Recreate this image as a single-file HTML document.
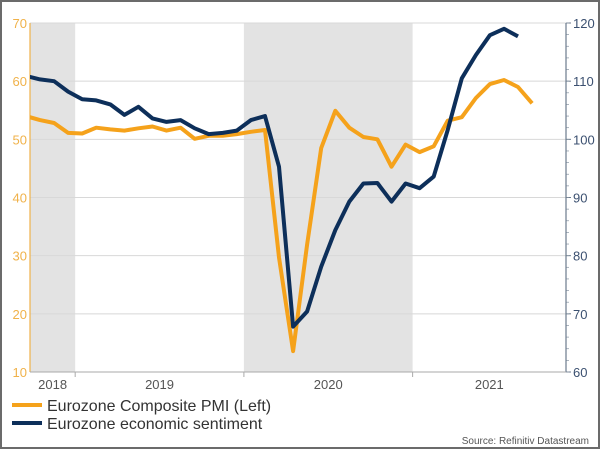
<!DOCTYPE html>
<html><head><meta charset="utf-8"><style>
body{margin:0;background:#fff;}
#wrap{position:relative;width:600px;height:449px;box-sizing:border-box;border:2px solid #6b6b6b;overflow:hidden;font-family:"Liberation Sans",sans-serif;}
</style></head><body>
<div id="wrap">
<svg id="chart" width="600" height="449" style="position:absolute;left:-2px;top:-2px"></svg>
</div>
<script>
const pmiValues=[54.0,53.3,52.8,51.1,51.0,52.0,51.7,51.5,51.9,52.2,51.5,52.0,50.1,50.6,50.6,50.9,51.3,51.6,29.7,13.6,31.9,48.5,54.9,52.0,50.4,50.0,45.3,49.1,47.8,48.8,53.2,53.8,57.1,59.5,60.2,59.0,56.2];
const sentimentValues=[110.9,110.3,110.0,108.2,106.9,106.7,106.0,104.2,105.6,103.6,103.0,103.3,101.9,100.9,101.1,101.5,103.3,104.0,95.3,67.8,70.4,78.1,84.4,89.3,92.4,92.5,89.3,92.4,91.6,93.6,101.6,110.5,114.5,117.9,119.0,117.7];
const leftTicks=[10,20,30,40,50,60,70];
const rightTicks=[60,70,80,90,100,110,120];
const yearLabels=["2018","2019","2020","2021"];
const yearStartMonth=[-9,3,15,27]; // month index of Jan of each year (k=0 is Oct 2018)
const shadedYears=[0,2];

const svg=document.getElementById('chart');
const NS='http://www.w3.org/2000/svg';
const X0=30,X1=566,YT=23,YB=372;
const xM=k=>40+k*14.06;           // mid-month position, k=0 Oct 2018
const xEdge=m=>xM(m)-7;            // month start edge
const yL=v=>YB-(v-10)/60*(YB-YT);
const yR=v=>YB-(v-60)/60*(YB-YT);
function el(tag,attrs,parent){const e=document.createElementNS(NS,tag);for(const k in attrs)e.setAttribute(k,attrs[k]);(parent||svg).appendChild(e);return e;}

const defs=el('defs',{});
const cp=el('clipPath',{id:'plotclip'},defs);
el('rect',{x:X0,y:YT-5,width:X1-X0,height:YB-YT+5},cp);

// shading
shadedYears.forEach(i=>{
  const a=Math.max(X0,xEdge(yearStartMonth[i])),b=Math.min(X1,xEdge(yearStartMonth[i]+12));
  const r=el('rect',{x:a,y:YT,width:b-a,height:YB-YT,fill:'#e3e3e3'});
  
  
});
// gridlines
leftTicks.forEach(t=>{
  const g=el('line',{x1:X0,x2:X1,y1:yL(t),y2:yL(t),stroke:'#d8d8d8','stroke-width':1});
  
  
  const tl=el('text',{x:X0-3,y:yL(t)+5,'text-anchor':'end','font-size':13,fill:'#f0b24a'});
  tl.textContent=t;
  
  
});
rightTicks.forEach(t=>{
  const tl=el('text',{x:X1+7,y:yR(t)+5,'font-size':13,fill:'#3b5070'});
  tl.textContent=t;
  
  
  el('line',{x1:X1,x2:X1+5,y1:yR(t),y2:yR(t),stroke:'#6b7a8c','stroke-width':1});
});
for(let v=60;v<=120;v+=2){el('line',{x1:X1,x2:X1+3,y1:yR(v),y2:yR(v),stroke:'#8a96a4','stroke-width':0.7});}
// axes
const la=el('line',{x1:X0,x2:X0,y1:YT,y2:YB,stroke:'#f0b24a','stroke-width':1.2});

const ra=el('line',{x1:X1,x2:X1,y1:YT,y2:YB,stroke:'#6b7a8c','stroke-width':1.2});

const xa=el('line',{x1:X0,x2:X1,y1:YB,y2:YB,stroke:'#aaa','stroke-width':1});

yearLabels.forEach((y,i)=>{
  const a=Math.max(X0,xEdge(yearStartMonth[i])),b=Math.min(X1,xEdge(yearStartMonth[i]+12));
  if(i>0)el('line',{x1:a,x2:a,y1:YB,y2:YB+5,stroke:'#aaa'});
  const t=el('text',{x:(a+b)/2,y:YB+17,'text-anchor':'middle','font-size':13,fill:'#555'});
  t.textContent=y;
  
  
});
// series
function series(vals,yf,color,name){
  const pts=vals.map((v,i)=>xM(i-1).toFixed(1)+','+yf(v).toFixed(1)).join(' ');
  const p=el('polyline',{points:pts,fill:'none',stroke:color,'stroke-width':4,'stroke-linejoin':'round','clip-path':'url(#plotclip)'});
  
  
}
series(pmiValues,yL,'#f5a21b','pmi-line');
series(sentimentValues,yR,'#0d2f5a','sentiment-line');
// legend
[['#f5a21b','Eurozone Composite PMI (Left)',405,'legend-entry-pmi'],['#0d2f5a','Eurozone economic sentiment',423,'legend-entry-sentiment']].forEach(d=>{
  const g=el('g',{});
  
  
  el('line',{x1:12,x2:42,y1:d[2],y2:d[2],stroke:d[0],'stroke-width':4},g);
  const t=el('text',{x:47,y:d[2]+6,'font-size':16,fill:'#333'},g);t.textContent=d[1];
});
const s=el('text',{x:589,y:444,'text-anchor':'end','font-size':10,fill:'#555'});
s.textContent='Source: Refinitiv Datastream';


</script>
</body></html>
